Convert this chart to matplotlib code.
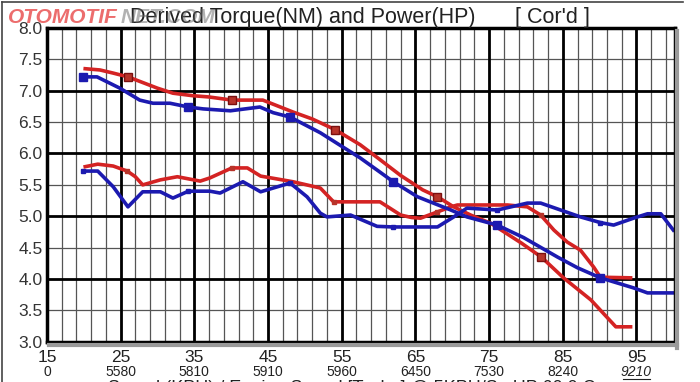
import numpy as np
import matplotlib
matplotlib.use("Agg")
import matplotlib.pyplot as plt
from matplotlib.lines import Line2D

plt.rcParams['font.family'] = ['Liberation Sans', 'DejaVu Sans']

# speed (KPH) on x, scaled torque / power on y
red_top_x = [20.2, 22.2, 24, 26, 28, 30, 32.1, 34.8, 37, 40.1, 44.3, 48.4, 51, 54.1, 57.5, 60,
             63, 66, 68, 70.2, 72.5, 75.2, 79.3, 82.1, 85.1, 88.8, 92.2, 94.2]
red_top_y = [7.35, 7.33, 7.28, 7.22, 7.13, 7.04, 6.96, 6.92, 6.9, 6.85, 6.85, 6.66, 6.55, 6.38, 6.14, 5.92,
             5.65, 5.42, 5.31, 5.15, 5.02, 4.89, 4.58, 4.35, 4.02, 3.67, 3.24, 3.24]
red_low_x = [20.2, 21.9, 24, 25.9, 27, 28, 30.4, 32.7, 35.8, 37.1, 40.1, 42.2, 44, 48.4, 52.1, 53.9,
             57.5, 60.2, 63, 64.5, 65.7, 68, 69.8, 70.7, 73, 77.5, 80.2, 82, 83.8, 85.6, 87.4, 89.2, 90.1, 94.2]
red_low_y = [5.79, 5.83, 5.8, 5.72, 5.63, 5.5, 5.58, 5.63, 5.56, 5.61, 5.77, 5.77, 5.64, 5.55, 5.45, 5.23,
             5.23, 5.23, 5.02, 4.98, 4.97, 5.07, 5.15, 5.18, 5.18, 5.18, 5.15, 5.02, 4.78, 4.59, 4.46, 4.19, 4.03, 4.02]
blue_top_x = [19.9, 21.8, 24.9, 27.6, 29.4, 31.7, 34.2, 36.2, 39.9, 43.9, 45.7, 48, 52.1, 55.2, 57.5, 60,
              62, 65.3, 69.8, 72, 76.1, 79.7, 84.3, 87, 90.1, 94.6, 96.5, 100]
blue_top_y = [7.22, 7.22, 7.04, 6.85, 6.8, 6.8, 6.74, 6.71, 6.68, 6.74, 6.65, 6.58, 6.33, 6.1, 5.93, 5.72,
              5.55, 5.31, 5.1, 4.99, 4.86, 4.66, 4.35, 4.18, 4.02, 3.86, 3.78, 3.78]
blue_low_x = [19.9, 21.9, 24, 26, 28, 30.4, 32.1, 34.2, 37.1, 38.5, 41.6, 44, 48, 50.3, 52.1, 53, 56.2,
              59.8, 62, 65.3, 68, 70.2, 72, 76.1, 80.2, 82, 87.4, 90.1, 91.9, 94.6, 96.5, 98.3, 100]
blue_low_y = [5.72, 5.72, 5.47, 5.15, 5.39, 5.39, 5.29, 5.4, 5.4, 5.37, 5.55, 5.39, 5.53, 5.31, 5.05, 4.99, 5.02,
              4.84, 4.83, 4.83, 4.83, 4.99, 5.13, 5.1, 5.21, 5.21, 4.99, 4.9, 4.86, 4.97, 5.04, 5.04, 4.78]

red_marks = [26, 40.1, 54.1, 68, 82.1]
red_low_marks = [25.9, 40.1, 53.9, 68, 82]
blue_marks = [19.9, 34.2, 48, 62, 76.1, 90.1]

speed_ticks = [15, 25, 35, 45, 55, 65, 75, 85, 95]
rpm_labels = ["0", "5580", "5810", "5910", "5960", "6450", "7530", "8240", "9210"]
y_ticks = [3.0, 3.5, 4.0, 4.5, 5.0, 5.5, 6.0, 6.5, 7.0, 7.5, 8.0]

RED = "#d42323"
BLUE = "#1c1ab0"


def every(xs, marks):
    return [x in marks for x in xs]


fig = plt.figure(figsize=(7, 3.82), dpi=100)
ax = fig.add_axes([0.067, 0.105, 0.897, 0.822])

# grid
for x in np.arange(17, 100, 2):
    ax.axvline(x, color="#555555", lw=0.9, zorder=1)
for x in speed_ticks[1:]:
    ax.axvline(x, color="black", lw=2.0, zorder=1.5)
for y in y_ticks[1:-1]:
    major = float(y).is_integer()
    ax.axhline(y, color="black" if major else "#555555", lw=2.0 if major else 0.9, zorder=1.5 if major else 1)

ax.plot(red_top_x, red_top_y, color=RED, lw=2.6, zorder=3, marker="s", ms=5.5,
        mfc="#b8342a", mec="#7a1010", markevery=every(red_top_x, red_marks))
ax.plot(red_low_x, red_low_y, color=RED, lw=2.6, zorder=3, marker="s", ms=3,
        mfc="#b8342a", mec="#b8342a", markevery=every(red_low_x, red_low_marks))
ax.plot(blue_top_x, blue_top_y, color=BLUE, lw=2.6, zorder=3, marker="s", ms=5.5,
        mfc=BLUE, mec=BLUE, markevery=every(blue_top_x, blue_marks))
ax.plot(blue_low_x, blue_low_y, color=BLUE, lw=2.6, zorder=3, marker="s", ms=3.5,
        mfc=BLUE, mec=BLUE, markevery=every(blue_low_x, blue_marks))

ax.set_xlim(15, 100.2)
ax.set_ylim(3.0, 8.0)
ax.set_xticks(speed_ticks)
ax.set_xticklabels([str(t) for t in speed_ticks], fontsize=12.5, color="#222222")
ax.set_yticks(y_ticks)
ax.set_yticklabels([f"{t:.1f}" for t in y_ticks], fontsize=12.5, color="#333333")
ax.tick_params(length=0, pad=3)
ax.tick_params(axis="x", pad=6)
for s in ax.spines.values():
    s.set_linewidth(2.5)
    s.set_zorder(4)

# drop shadow of the plot box
shadow = dict(color="#9a9a9a", lw=3, transform=fig.transFigure, clip_on=False)
fig.add_artist(Line2D([0.9675, 0.9675], [0.09, 0.92], **shadow))
fig.add_artist(Line2D([0.07, 0.9675], [0.097, 0.097], **shadow))

# engine speed row under the speed labels
narrow = ['Liberation Sans Narrow', 'Liberation Sans', 'DejaVu Sans']
for t, lab in zip(speed_ticks, rpm_labels):
    style = "italic" if lab == "9210" else "normal"
    ax.text(t, -0.097, lab, transform=ax.get_xaxis_transform(), ha="center", va="center",
            fontsize=10, style=style, color="#222222", family=narrow)
ax.plot([93.2, 96.8], [-0.119, -0.119], transform=ax.get_xaxis_transform(), color="#222222",
        lw=0.8, clip_on=False)

fig.text(0.155, 0.006, "Speed (KPH) / Engine Speed [Tacho] @ 5KPH/S   HP 60.0 C",
         fontsize=13, va="top", ha="left", color="#222222")

# title and tag
fig.text(0.186, 0.955, "Derived Torque(NM) and Power(HP)", fontsize=15.5, va="center", color="#222222")
fig.text(0.736, 0.955, "[ Cor'd ]", fontsize=15.5, va="center", color="#222222")

# watermark
fig.text(0.012, 0.955, "OTOMOTIF", fontsize=15, fontweight="bold", style="italic", color="#e84848",
         alpha=0.8, va="center")
fig.text(0.173, 0.955, "NET.COM", fontsize=15, fontweight="bold", style="italic", color="#666666",
         alpha=0.5, va="center")

# outer frame
fig.add_artist(Line2D([0.003, 0.976], [0.994, 0.994], color="#444444", lw=1.2, transform=fig.transFigure))
fig.add_artist(Line2D([0.003, 0.003], [0.0, 0.994], color="#444444", lw=1.2, transform=fig.transFigure))

fig.savefig("out.png", dpi=100)
